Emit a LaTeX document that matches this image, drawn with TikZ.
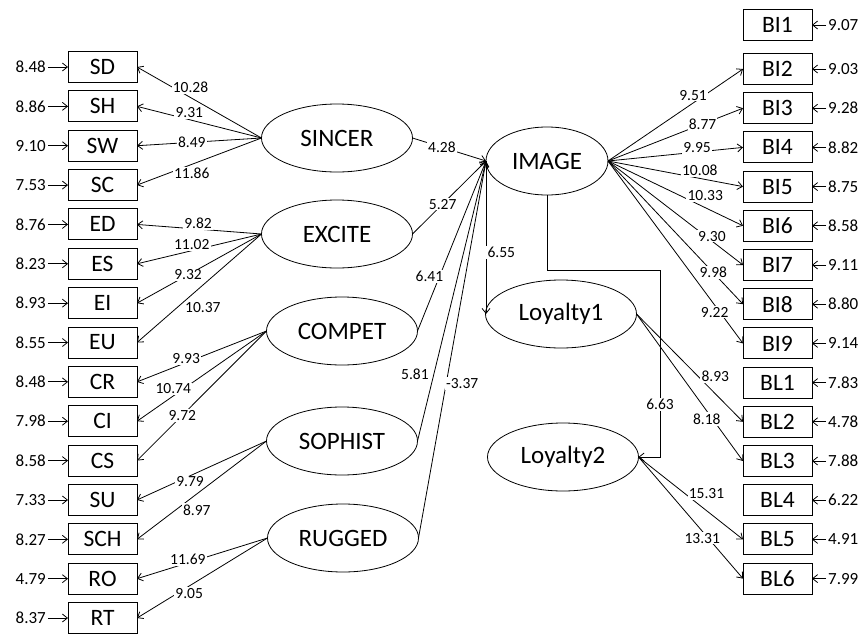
\documentclass[tikz,border=0pt]{standalone}
\usepackage{fontspec}
\setmainfont{Carlito}
\usetikzlibrary{shapes.geometric, positioning, arrows.meta}

\tikzset{
    observed/.style={
        rectangle, draw=black, line width=0.9pt, minimum width=69pt, minimum height=31pt, inner sep=0pt, outer sep=0pt, font=\fontsize{23.5}{27}\selectfont
    },
    latent/.style={
        ellipse, draw=black, line width=0.8pt, minimum width=151pt, minimum height=68pt, inner sep=0pt, outer sep=0pt, font=\fontsize{25}{28}\selectfont
    },
    error/.style={
        inner sep=2pt, font=\fontsize{17}{20}\selectfont
    },
    coef/.style={
        fill=white, inner sep=1.2pt, font=\fontsize{15.5}{18}\selectfont
    },
    arrow/.style={
        line width=0.8pt, -{Straight Barb[length=5pt, width=8pt]}
    }
}

\begin{document}
\begin{tikzpicture}[x=1pt, y=-1pt]
        \useasboundingbox (0,0) rectangle (867,637);

        % Observed variables, left
        \node (SD) [observed] at (102.5,67) {SD};
        \node (SH) [observed, below=8.36pt of SD] {SH};
        \node (SW) [observed, below=8.36pt of SH] {SW};
        \node (SC) [observed, below=8.36pt of SW] {SC};
        \node (ED) [observed, below=8.36pt of SC] {ED};
        \node (ES) [observed, below=8.36pt of ED] {ES};
        \node (EI) [observed, below=8.36pt of ES] {EI};
        \node (EU) [observed, below=8.36pt of EI] {EU};
        \node (CR) [observed, below=8.36pt of EU] {CR};
        \node (CI) [observed, below=8.36pt of CR] {CI};
        \node (CS) [observed, below=8.36pt of CI] {CS};
        \node (SU) [observed, below=8.36pt of CS] {SU};
        \node (SCH) [observed, below=8.36pt of SU] {SCH};
        \node (RO) [observed, below=8.36pt of SCH] {RO};
        \node (RT) [observed, below=8.36pt of RO] {RT};

        % Observed variables, right
        \node (BI1) [observed] at (777.5,25) {BI1};
        \node (BI2) [observed, below=13pt of BI1] {BI2};
        \node (BI3) [observed, below=8.2pt of BI2] {BI3};
        \node (BI4) [observed, below=8.2pt of BI3] {BI4};
        \node (BI5) [observed, below=8.2pt of BI4] {BI5};
        \node (BI6) [observed, below=8.2pt of BI5] {BI6};
        \node (BI7) [observed, below=8.2pt of BI6] {BI7};
        \node (BI8) [observed, below=8.2pt of BI7] {BI8};
        \node (BI9) [observed, below=8.2pt of BI8] {BI9};
        \node (BL1) [observed, below=8.2pt of BI9] {BL1};
        \node (BL2) [observed, below=8.2pt of BL1] {BL2};
        \node (BL3) [observed, below=8.2pt of BL2] {BL3};
        \node (BL4) [observed, below=8.2pt of BL3] {BL4};
        \node (BL5) [observed, below=8.2pt of BL4] {BL5};
        \node (BL6) [observed, below=8.2pt of BL5] {BL6};

        % Latent variables
        \node (SINCER) [latent] at (337,138) {SINCER};
        \node (EXCITE) [latent] at (337,234) {EXCITE};
        \node (COMPET) [latent] at (342,331) {COMPET};
        \node (SOPHIST) [latent] at (342,441) {SOPHIST};
        \node (RUGGED) [latent] at (343,538) {RUGGED};
        \node (IMAGE) [latent, minimum width=122pt] at (547,161) {IMAGE};
        \node (Loyalty1) [latent] at (561,314) {Loyalty1};
        \node (Loyalty2) [latent] at (563,457) {Loyalty2};
        \coordinate (turn) at (660,270);

        % Error terms
        \node (eSD) [error, left=20pt of SD] {8.48};
        \node (eSH) [error, left=20pt of SH] {8.86};
        \node (eSW) [error, left=20pt of SW] {9.10};
        \node (eSC) [error, left=20pt of SC] {7.53};
        \node (eED) [error, left=20pt of ED] {8.76};
        \node (eES) [error, left=20pt of ES] {8.23};
        \node (eEI) [error, left=20pt of EI] {8.93};
        \node (eEU) [error, left=20pt of EU] {8.55};
        \node (eCR) [error, left=20pt of CR] {8.48};
        \node (eCI) [error, left=20pt of CI] {7.98};
        \node (eCS) [error, left=20pt of CS] {8.58};
        \node (eSU) [error, left=20pt of SU] {7.33};
        \node (eSCH) [error, left=20pt of SCH] {8.27};
        \node (eRO) [error, left=20pt of RO] {4.79};
        \node (eRT) [error, left=20pt of RT] {8.37};
        \node (eBI1) [error, right=14pt of BI1] {9.07};
        \node (eBI2) [error, right=14pt of BI2] {9.03};
        \node (eBI3) [error, right=14pt of BI3] {9.28};
        \node (eBI4) [error, right=14pt of BI4] {8.82};
        \node (eBI5) [error, right=14pt of BI5] {8.75};
        \node (eBI6) [error, right=14pt of BI6] {8.58};
        \node (eBI7) [error, right=14pt of BI7] {9.11};
        \node (eBI8) [error, right=14pt of BI8] {8.80};
        \node (eBI9) [error, right=14pt of BI9] {9.14};
        \node (eBL1) [error, right=14pt of BL1] {7.83};
        \node (eBL2) [error, right=14pt of BL2] {4.78};
        \node (eBL3) [error, right=14pt of BL3] {7.88};
        \node (eBL4) [error, right=14pt of BL4] {6.22};
        \node (eBL5) [error, right=14pt of BL5] {4.91};
        \node (eBL6) [error, right=14pt of BL6] {7.99};

        % Error arrows
        \draw [arrow] (eSD) -- (SD);
        \draw [arrow] (eSH) -- (SH);
        \draw [arrow] (eSW) -- (SW);
        \draw [arrow] (eSC) -- (SC);
        \draw [arrow] (eED) -- (ED);
        \draw [arrow] (eES) -- (ES);
        \draw [arrow] (eEI) -- (EI);
        \draw [arrow] (eEU) -- (EU);
        \draw [arrow] (eCR) -- (CR);
        \draw [arrow] (eCI) -- (CI);
        \draw [arrow] (eCS) -- (CS);
        \draw [arrow] (eSU) -- (SU);
        \draw [arrow] (eSCH) -- (SCH);
        \draw [arrow] (eRO) -- (RO);
        \draw [arrow] (eRT) -- (RT);
        \draw [arrow] (eBI1) -- (BI1);
        \draw [arrow] (eBI2) -- (BI2);
        \draw [arrow] (eBI3) -- (BI3);
        \draw [arrow] (eBI4) -- (BI4);
        \draw [arrow] (eBI5) -- (BI5);
        \draw [arrow] (eBI6) -- (BI6);
        \draw [arrow] (eBI7) -- (BI7);
        \draw [arrow] (eBI8) -- (BI8);
        \draw [arrow] (eBI9) -- (BI9);
        \draw [arrow] (eBL1) -- (BL1);
        \draw [arrow] (eBL2) -- (BL2);
        \draw [arrow] (eBL3) -- (BL3);
        \draw [arrow] (eBL4) -- (BL4);
        \draw [arrow] (eBL5) -- (BL5);
        \draw [arrow] (eBL6) -- (BL6);

        % Loadings, left
        \draw [arrow] (SINCER.west) -- node[coef, pos=.57, yshift=10pt] {10.28} (SD.east);
        \draw [arrow] (SINCER.west) -- node[coef, pos=.58, yshift=7pt] {9.31} (SH.east);
        \draw [arrow] (SINCER.west) -- node[coef, pos=.56] {8.49} (SW.east);
        \draw [arrow] (SINCER.west) -- node[coef, pos=.56, yshift=-9pt] {11.86} (SC.east);
        \draw [arrow] (EXCITE.west) -- node[coef, pos=.51, yshift=6pt] {9.82} (ED.east);
        \draw [arrow] (EXCITE.west) -- node[coef, pos=.56, yshift=6pt] {11.02} (ES.east);
        \draw [arrow] (EXCITE.west) -- node[coef, pos=.59] {9.32} (EI.east);
        \draw [arrow] (EXCITE.west) -- node[coef, pos=.68, xshift=26pt] {10.37} (EU.east);
        \draw [arrow] (COMPET.west) -- node[coef, pos=.62, yshift=4pt] {9.93} (CR.east);
        \draw [arrow] (COMPET.west) -- node[coef, pos=.72, yshift=7pt] {10.74} (CI.east);
        \draw [arrow] (COMPET.west) -- node[coef, pos=.65] {9.72} (CS.east);
        \draw [arrow] (SOPHIST.west) -- node[coef, pos=.59, yshift=-6pt] {9.79} (SU.east);
        \draw [arrow] (SOPHIST.west) -- node[coef, pos=.70, xshift=21pt] {8.97} (SCH.east);
        \draw [arrow] (RUGGED.west) -- node[coef, pos=.61, yshift=3pt] {11.69} (RO.east);
        \draw [arrow] (RUGGED.west) -- node[coef, pos=.60, yshift=-7pt] {9.05} (RT.east);

        % Paths to IMAGE
        \draw [arrow] (SINCER.east) -- node[coef, pos=.4] {4.28} (IMAGE.west);
        \draw [arrow] (EXCITE.east) -- node[coef, pos=.41] {5.27} (IMAGE.west);
        \draw [arrow] (COMPET.east) -- node[coef, pos=.32, xshift=-10pt] {6.41} (IMAGE.west);
        \draw [arrow] (SOPHIST.east) -- node[coef, pos=.24, xshift=-19pt] {5.81} (IMAGE.west);
        \draw [arrow] (RUGGED.east) -- node[coef, pos=.41, xshift=16pt] {-3.37} (IMAGE.west);

        % Paths from IMAGE
        \draw [arrow] (IMAGE.west) -- node[coef, pos=.6, right=0pt] {6.55} (IMAGE.west |- Loyalty1.west);
        \draw [arrow] (IMAGE.south) |- (turn) |- node[coef, pos=.36] {6.63} (Loyalty2.east);

        % Loadings, right
        \draw [arrow] (IMAGE.east) -- node[coef, pos=.63, yshift=8pt] {9.51} (BI2.west);
        \draw [arrow] (IMAGE.east) -- node[coef, pos=.70] {8.77} (BI3.west);
        \draw [arrow] (IMAGE.east) -- node[coef, pos=.66, yshift=4pt] {9.95} (BI4.west);
        \draw [arrow] (IMAGE.east) -- node[coef, pos=.68, yshift=8pt] {10.08} (BI5.west);
        \draw [arrow] (IMAGE.east) -- node[coef, pos=.72, yshift=12pt] {10.33} (BI6.west);
        \draw [arrow] (IMAGE.east) -- node[coef, pos=.77, yshift=5pt] {9.30} (BI7.west);
        \draw [arrow] (IMAGE.east) -- node[coef, pos=.78] {9.98} (BI8.west);
        \draw [arrow] (IMAGE.east) -- node[coef, pos=.79, yshift=-7pt] {9.22} (BI9.west);
        \draw [arrow] (Loyalty1.east) -- node[coef, pos=.58, xshift=17pt] {8.93} (BL2.west);
        \draw [arrow] (Loyalty1.east) -- node[coef, pos=.66, yshift=-8pt] {8.18} (BL3.west);
        \draw [arrow] (Loyalty2.east) -- node[coef, pos=.44, xshift=22pt] {15.31} (BL5.west);
        \draw [arrow] (Loyalty2.east) -- node[coef, pos=.61, yshift=-7pt] {13.31} (BL6.west);
\end{tikzpicture}
\end{document}
